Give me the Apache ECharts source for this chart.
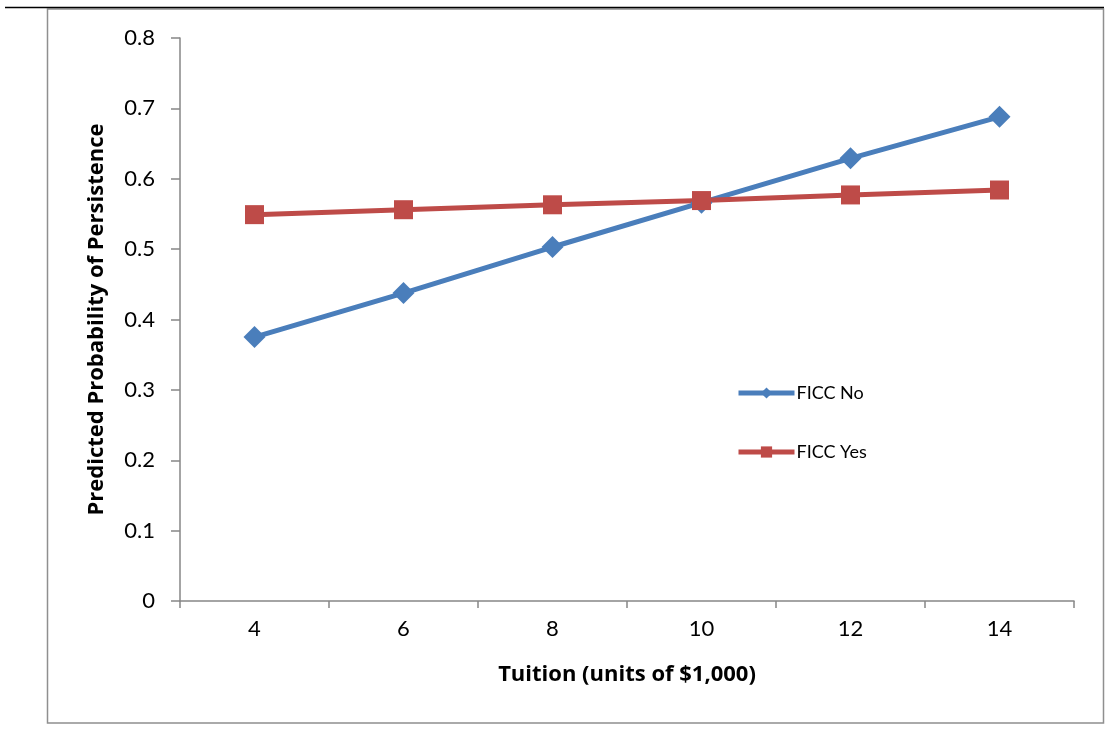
<!DOCTYPE html>
<html>
<head>
<meta charset="utf-8">
<script src="https://cdn.jsdelivr.net/npm/echarts@6/dist/echarts.min.js"></script>
<style>
html,body{margin:0;padding:0;background:#fff;}
#c{width:1106px;height:742px;}
</style>
</head>
<body>
<div id="c"></div>
<script>
const categories = ['4', '6', '8', '10', '12', '14'];
const ficcNo = [0.375, 0.4375, 0.503, 0.566, 0.629, 0.688];
const ficcYes = [0.549, 0.556, 0.563, 0.569, 0.577, 0.584];
const seriesNames = ['FICC No', 'FICC Yes'];
const xTitle = 'Tuition (units of $1,000)';
const yTitle = 'Predicted Probability of Persistence';

const FONT = 'Lato, "Open Sans", sans-serif';
const BOLD_FONT = '"Open Sans", "Noto Sans", sans-serif';
const axisColor = '#868686';

const chart = echarts.init(document.getElementById('c'), null, {renderer: 'canvas'});
chart.setOption({
  animation: false,
  backgroundColor: '#fff',
  graphic: [
    {type: 'line', shape: {x1: 5, y1: 7.5, x2: 1104, y2: 7.5}, style: {stroke: '#000', lineWidth: 1.6}, z: 10},
    {type: 'rect', shape: {x: 47.5, y: 9, width: 1056, height: 714}, style: {fill: 'none', stroke: '#8f8f8f', lineWidth: 1.5}, z: 9}
  ],
  grid: {left: 180, right: 32, top: 38, bottom: 141, containLabel: false},
  legend: {
    orient: 'vertical',
    left: 731, top: 379,
    itemGap: 41,
    itemWidth: 56, itemHeight: 14,
    lineStyle: {width: 5},
    textStyle: {fontFamily: FONT, fontSize: 18, color: '#000', padding: [0, 0, 0, -3]},
    data: seriesNames
  },
  xAxis: {
    type: 'category',
    data: categories,
    boundaryGap: true,
    name: xTitle,
    nameLocation: 'middle',
    nameGap: 63,
    nameTextStyle: {fontFamily: BOLD_FONT, fontSize: 22, fontWeight: 'bold', color: '#000'},
    axisLine: {lineStyle: {color: axisColor, width: 1.5}},
    axisTick: {show: true, alignWithLabel: false, length: 7, lineStyle: {color: axisColor, width: 1.5}},
    axisLabel: {fontFamily: FONT, fontSize: 22, color: '#000', margin: 17},
    splitLine: {show: false}
  },
  yAxis: {
    type: 'value',
    min: 0, max: 0.8, interval: 0.1,
    name: yTitle,
    nameLocation: 'middle',
    nameGap: 72,
    nameRotate: 90,
    nameTextStyle: {fontFamily: BOLD_FONT, fontSize: 22, fontWeight: 'bold', color: '#000'},
    axisLine: {show: true, lineStyle: {color: axisColor, width: 1.5}},
    axisTick: {show: true, length: 9, lineStyle: {color: axisColor, width: 1.5}},
    axisLabel: {fontFamily: FONT, fontSize: 22, color: '#000', margin: 25},
    splitLine: {show: false}
  },
  series: [
    {
      name: seriesNames[0], type: 'line', data: ficcNo,
      symbol: 'diamond', symbolSize: 22,
      lineStyle: {color: '#4A7EBB', width: 5},
      itemStyle: {color: '#4A7EBB'}
    },
    {
      name: seriesNames[1], type: 'line', data: ficcYes,
      symbol: 'rect', symbolSize: 19,
      lineStyle: {color: '#BE4B48', width: 5},
      itemStyle: {color: '#BE4B48'}
    }
  ]
});
</script>
</body>
</html>
